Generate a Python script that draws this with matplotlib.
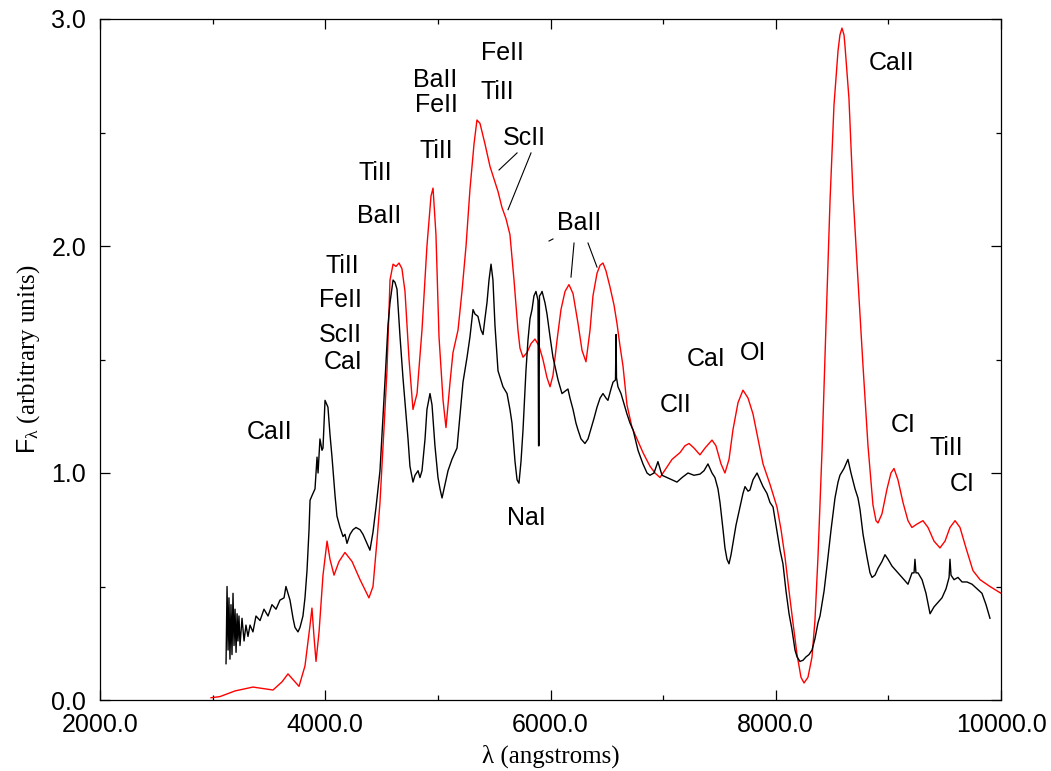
import matplotlib
matplotlib.use("Agg")
import matplotlib.pyplot as plt
from matplotlib.ticker import MultipleLocator, FuncFormatter

# ---------------- data ----------------
lam_model = [2986, 3065, 3199, 3358, 3536, 3616, 3669, 3714, 3767, 3820, 3865, 3882, 3900, 3918, 3945,
             3980, 4016, 4042, 4078, 4122, 4175, 4238, 4309, 4388, 4424, 4459, 4486, 4522, 4548, 4575,
             4602, 4628, 4655, 4681, 4708, 4744, 4779, 4815, 4859, 4903, 4939, 4957, 4983, 5010, 5046,
             5072, 5108, 5134, 5179, 5214, 5250, 5285, 5321, 5347, 5374, 5418, 5463, 5489, 5534, 5569,
             5605, 5640, 5676, 5711, 5729, 5756, 5791, 5827, 5862, 5898, 5933, 5969, 5996, 6022, 6058,
             6093, 6129, 6164, 6200, 6244, 6280, 6315, 6351, 6377, 6413, 6440, 6466, 6493, 6528, 6564,
             6590, 6617, 6644, 6679, 6724, 6768, 6821, 6883, 6928, 6972, 7026, 7079, 7150, 7194, 7230,
             7274, 7327, 7372, 7434, 7469, 7514, 7549, 7585, 7620, 7665, 7709, 7754, 7798, 7842, 7887,
             7949, 8011, 8047, 8082, 8118, 8153, 8189, 8224, 8251, 8286, 8322, 8348, 8375, 8411, 8446,
             8482, 8517, 8553, 8570, 8588, 8606, 8615, 8650, 8686, 8730, 8775, 8819, 8863, 8890, 8908,
             8943, 8988, 9023, 9050, 9085, 9130, 9174, 9209, 9254, 9307, 9352, 9405, 9458, 9503, 9547,
             9592, 9636, 9689, 9751, 9814, 9902, 10000]
flux_model = [0.01, 0.015, 0.04, 0.057, 0.044, 0.08, 0.115, 0.09, 0.06, 0.15, 0.33, 0.405, 0.28, 0.17, 0.30,
              0.55, 0.70, 0.62, 0.55, 0.61, 0.65, 0.61, 0.53, 0.45, 0.50, 0.70, 0.87, 1.20, 1.45, 1.85,
              1.92, 1.91, 1.925, 1.90, 1.80, 1.50, 1.28, 1.35, 1.63, 2.00, 2.22, 2.255, 2.05, 1.60, 1.32,
              1.20, 1.40, 1.53, 1.63, 1.80, 2.00, 2.25, 2.45, 2.555, 2.54, 2.45, 2.35, 2.31, 2.24, 2.17,
              2.12, 2.05, 1.85, 1.63, 1.55, 1.51, 1.53, 1.57, 1.59, 1.56, 1.50, 1.42, 1.38, 1.43, 1.585,
              1.72, 1.80, 1.83, 1.79, 1.66, 1.54, 1.49, 1.63, 1.78, 1.88, 1.915, 1.925, 1.89, 1.82, 1.74,
              1.66, 1.56, 1.47, 1.30, 1.20, 1.15, 1.09, 1.03, 1.00, 0.98, 1.02, 1.06, 1.09, 1.12, 1.13,
              1.11, 1.08, 1.11, 1.145, 1.12, 1.04, 1.00, 1.06, 1.19, 1.31, 1.365, 1.33, 1.26, 1.15, 1.04,
              0.95, 0.85, 0.75, 0.63, 0.48, 0.34, 0.20, 0.10, 0.075, 0.10, 0.19, 0.35, 0.63, 1.10, 1.65,
              2.20, 2.62, 2.86, 2.93, 2.96, 2.93, 2.88, 2.65, 2.23, 1.85, 1.47, 1.12, 0.86, 0.79, 0.78,
              0.82, 0.93, 1.00, 1.02, 0.97, 0.87, 0.79, 0.76, 0.775, 0.79, 0.76, 0.70, 0.67, 0.70, 0.76,
              0.79, 0.76, 0.67, 0.57, 0.53, 0.50, 0.47]

lam_obs = [3119, 3128, 3137, 3145, 3154, 3163, 3172, 3181, 3190, 3199, 3208, 3217, 3225, 3234, 3243,
           3261, 3279, 3296, 3314, 3332, 3358, 3385, 3421, 3456, 3492, 3527, 3563, 3598, 3634, 3651,
           3669, 3687, 3714, 3731, 3758, 3776, 3802, 3820, 3838, 3856, 3865, 3882, 3909, 3927, 3936,
           3953, 3971, 3980, 3998, 4016, 4024, 4042, 4060, 4087, 4104, 4131, 4158, 4175, 4193, 4220,
           4246, 4273, 4309, 4335, 4371, 4397, 4424, 4451, 4486, 4513, 4531, 4557, 4575, 4602, 4619,
           4637, 4664, 4690, 4708, 4735, 4752, 4779, 4797, 4824, 4841, 4859, 4886, 4903, 4930, 4948,
           4974, 5001, 5019, 5037, 5063, 5090, 5125, 5170, 5196, 5223, 5259, 5285, 5312, 5330, 5356,
           5383, 5401, 5418, 5436, 5454, 5472, 5489, 5507, 5534, 5578, 5614, 5640, 5658, 5685, 5703,
           5720, 5738, 5756, 5782, 5800, 5818, 5836, 5853, 5871, 5889, 5894, 5898, 5902, 5916, 5925,
           5951, 5969, 5996, 6022, 6049, 6067, 6102, 6129, 6155, 6173, 6200, 6226, 6244, 6271, 6306,
           6333, 6351, 6386, 6413, 6440, 6466, 6493, 6510, 6537, 6555, 6577, 6582, 6586, 6599, 6626,
           6644, 6679, 6706, 6733, 6777, 6821, 6857, 6883, 6919, 6954, 6990, 7034, 7079, 7123, 7168,
           7221, 7274, 7327, 7363, 7398, 7434, 7460, 7487, 7505, 7532, 7549, 7567, 7585, 7603, 7620,
           7647, 7683, 7709, 7727, 7754, 7771, 7798, 7834, 7860, 7887, 7922, 7949, 7976, 8002, 8038,
           8064, 8091, 8118, 8144, 8171, 8189, 8215, 8242, 8269, 8295, 8322, 8348, 8375, 8393, 8429,
           8455, 8491, 8526, 8553, 8570, 8606, 8641, 8668, 8704, 8730, 8748, 8775, 8810, 8837, 8855,
           8881, 8908, 8943, 8970, 8997, 9032, 9068, 9103, 9139, 9174, 9210, 9228, 9236, 9245, 9263,
           9299, 9334, 9370, 9405, 9441, 9476, 9512, 9539, 9547, 9556, 9583, 9618, 9654, 9698, 9743,
           9787, 9831, 9867, 9902]
flux_obs = [0.16, 0.50, 0.22, 0.45, 0.18, 0.42, 0.20, 0.47, 0.24, 0.40, 0.21, 0.38, 0.26, 0.37, 0.24,
            0.36, 0.26, 0.33, 0.28, 0.33, 0.30, 0.37, 0.35, 0.40, 0.37, 0.42, 0.40, 0.44, 0.45, 0.50,
            0.47, 0.44, 0.36, 0.32, 0.30, 0.32, 0.37, 0.45, 0.57, 0.75, 0.88, 0.90, 0.93, 1.07, 1.00,
            1.15, 1.10, 1.11, 1.32, 1.30, 1.29, 1.17, 1.07, 0.90, 0.81, 0.76, 0.72, 0.73, 0.69, 0.73,
            0.75, 0.76, 0.75, 0.73, 0.69, 0.66, 0.74, 0.85, 1.01, 1.25, 1.41, 1.65, 1.75, 1.85, 1.84,
            1.81, 1.60, 1.42, 1.31, 1.15, 1.03, 0.96, 0.99, 1.01, 0.98, 1.01, 1.15, 1.28, 1.35, 1.30,
            1.12, 0.98, 0.93, 0.89, 0.95, 1.01, 1.06, 1.11, 1.25, 1.40, 1.51, 1.60, 1.72, 1.70, 1.69,
            1.63, 1.61, 1.68, 1.75, 1.85, 1.92, 1.85, 1.65, 1.45, 1.38, 1.35, 1.28, 1.22, 1.05, 0.97,
            0.955, 1.05, 1.19, 1.45, 1.585, 1.68, 1.72, 1.78, 1.80, 1.76, 1.12, 1.12, 1.78, 1.79, 1.80,
            1.75, 1.70, 1.60, 1.51, 1.45, 1.41, 1.35, 1.36, 1.37, 1.33, 1.28, 1.22, 1.19, 1.15, 1.13,
            1.15, 1.18, 1.24, 1.29, 1.33, 1.35, 1.33, 1.32, 1.37, 1.40, 1.41, 1.61, 1.42, 1.38, 1.35,
            1.32, 1.26, 1.22, 1.19, 1.10, 1.04, 1.00, 0.99, 1.00, 1.05, 0.99, 0.98, 0.97, 0.96, 0.98,
            1.00, 0.99, 0.995, 1.01, 1.04, 1.00, 0.98, 0.93, 0.87, 0.75, 0.67, 0.62, 0.60, 0.64, 0.69,
            0.77, 0.85, 0.91, 0.94, 0.92, 0.925, 0.97, 1.00, 0.97, 0.94, 0.91, 0.87, 0.85, 0.77, 0.66,
            0.60, 0.48, 0.38, 0.31, 0.22, 0.19, 0.17, 0.175, 0.19, 0.20, 0.22, 0.27, 0.34, 0.37, 0.48,
            0.59, 0.75, 0.89, 0.96, 0.99, 1.02, 1.06, 1.00, 0.93, 0.89, 0.84, 0.73, 0.63, 0.56, 0.54,
            0.55, 0.58, 0.61, 0.64, 0.62, 0.59, 0.57, 0.55, 0.53, 0.51, 0.56, 0.56, 0.62, 0.56, 0.56,
            0.53, 0.47, 0.38, 0.41, 0.43, 0.45, 0.49, 0.54, 0.62, 0.55, 0.53, 0.54, 0.52, 0.52, 0.51,
            0.49, 0.47, 0.42, 0.36]

# line identifications: (text, wavelength, flux) of label centres
ion_labels = ["CaII", "TiII", "FeII", "ScII", "CaI", "TiII", "BaII", "BaII", "FeII", "TiII",
              "FeII", "TiII", "ScII", "BaII", "NaI", "CII", "CaI", "OI", "CaII", "CI", "TiII", "CI"]
ion_lam = [3509, 4149, 4131, 4131, 4158, 4442, 4477, 4974, 4983, 4983,
           5569, 5525, 5765, 6253, 5782, 7114, 7381, 7798, 9032, 9130, 9512, 9654]
ion_flux = [1.18, 1.91, 1.76, 1.61, 1.49, 2.32, 2.13, 2.73, 2.62, 2.42,
            2.85, 2.68, 2.476, 2.10, 0.80, 1.30, 1.50, 1.53, 2.806, 1.21, 1.11, 0.95]

# leader lines: (lam0, lam1), (f0, f1)
leader_lam = [(5703, 5543), (5827, 5623), (6209, 6182), (6333, 6413), (5987, 6022)]
leader_flux = [(2.41, 2.335), (2.41, 2.16), (2.013, 1.863), (2.013, 1.907), (2.022, 2.031)]

# ---------------- figure ----------------
plt.rcParams['font.family'] = ['Liberation Sans', 'DejaVu Sans']
plt.rcParams['mathtext.fontset'] = 'custom'
plt.rcParams['mathtext.rm'] = 'Liberation Serif'
plt.rcParams['mathtext.it'] = 'Liberation Serif'
plt.rcParams['mathtext.sf'] = 'Liberation Sans'

fig = plt.figure(figsize=(10.51, 7.71), dpi=100)
ax = fig.add_axes([100 / 1051, 1 - 700 / 771, 901 / 1051, 681 / 771])

ax.plot(lam_model, flux_model, color='#ff0000', lw=1.0, zorder=2)
ax.plot(lam_obs, flux_obs, color='black', lw=1.0, zorder=3)

for t, x, y in zip(ion_labels, ion_lam, ion_flux):
    ax.text(x, y, t, fontsize=18, ha='center', va='center', color='black')
for (x0, x1), (y0, y1) in zip(leader_lam, leader_flux):
    ax.plot([x0, x1], [y0, y1], color='black', lw=0.8)

ax.set_xlim(2000, 10000)
ax.set_ylim(0, 3.0)
ax.xaxis.set_major_locator(MultipleLocator(2000))
ax.xaxis.set_minor_locator(MultipleLocator(1000))
ax.yaxis.set_major_locator(MultipleLocator(1.0))
ax.yaxis.set_minor_locator(MultipleLocator(0.5))
ax.xaxis.set_major_formatter(FuncFormatter(lambda v, p: f"{v:.1f}"))
ax.yaxis.set_major_formatter(FuncFormatter(lambda v, p: f"{v:.1f}"))
ax.tick_params(which='both', direction='in', top=True, right=True, width=0.9)
ax.tick_params(which='major', length=7, labelsize=18)
ax.tick_params(axis='x', which='major', pad=9)
ax.tick_params(axis='y', which='major', pad=10)
ax.tick_params(which='minor', length=3.5)
for s in ax.spines.values():
    s.set_linewidth(0.9)

ax.set_xlabel('λ (angstroms)', fontsize=18, family=['Liberation Serif'], labelpad=6)
ax.set_ylabel(r'$\mathsf{F}_{\lambda}$ (arbitrary units)', fontsize=18,
              family=['Liberation Serif'], labelpad=7)

fig.savefig('out.png', dpi=100)
